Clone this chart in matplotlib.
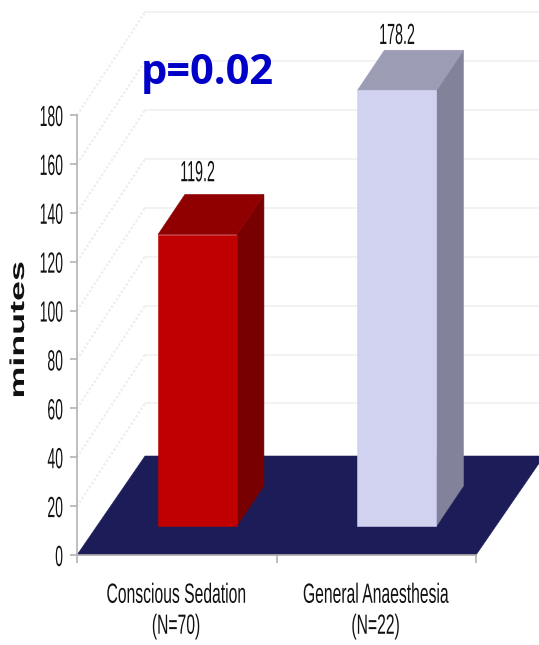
import matplotlib
matplotlib.use('Agg')
from matplotlib import pyplot as plt
from matplotlib.patches import Polygon
from matplotlib.patheffects import AbstractPathEffect
from matplotlib.transforms import Affine2D

categories = ['Conscious Sedation\n(N=70)', 'General Anaesthesia\n(N=22)']
values = [119.2, 178.2]
y_ticks = [0, 20, 40, 60, 80, 100, 120, 140, 160, 180]

front_colors = ['#c00000', '#d0d2f0']
top_colors = ['#900000', '#9c9cb4']
side_colors = ['#780000', '#82829a']
floor_color = '#1c1c58'
label_gaps = [9.5, 4.5]

W, H = 539, 645
SANS = ['Liberation Sans', 'DejaVu Sans']

# 3d look: depth of the floor and of a bar, in data units
floor_dx, floor_dy = 0.341, 40.5
wall_dy = 42
bar_dx, bar_dy = 0.135, 16.4
bar_shift_y = 11.9
bar_center, bar_width = 0.604, 0.396


class Squeeze(AbstractPathEffect):
    # scales drawn text around a fixed pixel position
    def __init__(self, sx=1.0, sy=1.0, cx=0.0, cy=0.0):
        super().__init__()
        self.sx, self.sy, self.cx, self.cy = sx, sy, cx, cy

    def draw_path(self, renderer, gc, tpath, affine, rgbFace=None):
        squeeze = Affine2D().translate(-self.cx, -self.cy).scale(self.sx, self.sy).translate(self.cx, self.cy)
        renderer.draw_path(gc, tpath, affine + squeeze, rgbFace)


fig = plt.figure(figsize=(W / 100, H / 100), dpi=100)
ax = fig.add_axes([77 / W, 1 - 555 / H, 399 / W, 440 / H])
ax.set_xlim(0, 2)
ax.set_ylim(0, 180)


def poly(pts, color, z):
    ax.add_patch(Polygon(pts, closed=True, facecolor=color, edgecolor=color,
                         linewidth=0.4, zorder=z, clip_on=False))


# back wall grid and the diagonals running to the axis
for t in y_ticks[1:]:
    ax.plot([floor_dx, 2.4], [t + wall_dy, t + wall_dy], color='#f1f1f1', lw=1.3,
            zorder=1, clip_on=False)
    ax.plot([0, floor_dx], [t, t + wall_dy], color='#ededed', lw=1.6, ls=(0, (1, 1)),
            zorder=1, clip_on=False)

poly([(0, 0), (2, 0), (2 + floor_dx, floor_dy), (floor_dx, floor_dy)], floor_color, 2)

for i, v in enumerate(values):
    x0 = i + bar_center - bar_width / 2
    x1 = x0 + bar_width
    y0 = bar_shift_y
    y1 = y0 + v
    poly([(x1, y0), (x1 + bar_dx, y0 + bar_dy), (x1 + bar_dx, y1 + bar_dy), (x1, y1)], side_colors[i], 3)
    poly([(x0, y1), (x1, y1), (x1 + bar_dx, y1 + bar_dy), (x0 + bar_dx, y1 + bar_dy)], top_colors[i], 3)
    poly([(x0, y0), (x1, y0), (x1, y1), (x0, y1)], front_colors[i], 4)
    lx = x0 + bar_width / 2
    ann = ax.annotate(f'{v:.1f}', (lx, y1 + bar_dy), xytext=(0, label_gaps[i]),
                      textcoords='offset points', ha='center', va='baseline', fontsize=21,
                      family=SANS, color='#111111', annotation_clip=False, zorder=5)
    ann.set_path_effects([Squeeze(sx=0.49, cx=ax.transData.transform((lx, 0))[0])])

for side in ['top', 'right']:
    ax.spines[side].set_visible(False)
for side in ['left', 'bottom']:
    ax.spines[side].set_color('#b4b4b4')
    ax.spines[side].set_linewidth(1.2)

ax.set_yticks(y_ticks)
ax.set_xticks([0, 1, 2])
ax.set_xticklabels([])
ax.set_xticks([0.5, 1.5], minor=True)
ax.set_xticklabels(categories, minor=True, family=SANS, fontsize=20, color='#111111',
                   linespacing=1.25)
ax.tick_params(axis='x', which='major', length=6, width=1.2, color='#b4b4b4')
ax.tick_params(axis='x', which='minor', length=0, pad=20)
ax.tick_params(axis='y', length=5, width=1.2, color='#b4b4b4', pad=6, labelcolor='#111111')
for lab in ax.get_yticklabels():
    lab.set_family(SANS)
    lab.set_fontsize(21)
    lab.set_path_effects([Squeeze(sx=0.48, cx=64)])
for lab, pos in zip(ax.get_xticklabels(minor=True), [0.5, 1.5]):
    lab.set_path_effects([Squeeze(sx=0.565, cx=ax.transData.transform((pos, 0))[0] - 1.5)])

fig.text(18.5 / W, 1 - 330 / H, 'minutes', rotation=90, ha='center', va='center',
         fontsize=14.5, fontweight='bold', family=SANS, color='#111111',
         path_effects=[Squeeze(sy=1.78, cy=H - 330)])
fig.text(207 / W, 1 - 73 / H, 'p=0.02', ha='center', va='center', fontsize=30,
         fontweight='bold', family=['Open Sans', 'DejaVu Sans'], color='#0000c8')

fig.savefig('out.png', dpi=100)
